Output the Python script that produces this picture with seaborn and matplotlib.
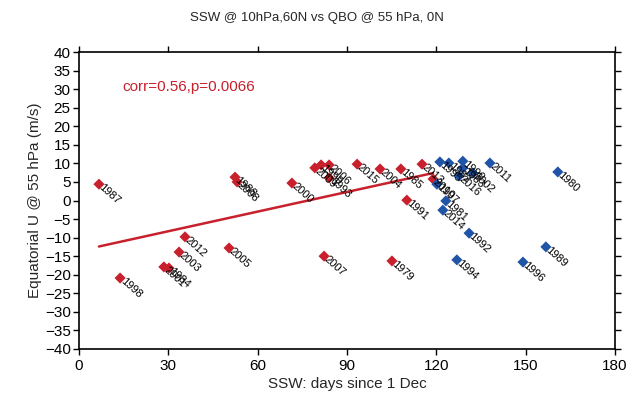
import matplotlib
matplotlib.use("Agg")
import matplotlib.pyplot as plt
import seaborn as sns
import pandas as pd
import numpy as np

# ---- data ----
red_years = ["1987", "1998", "2001", "1984", "2003", "2012", "2005", "1988", "2008",
             "2000", "2009", "1999", "2006", "1993", "2007", "2015", "2004", "1985",
             "1991", "1979", "2013", "2010"]
red_days = [6.7, 13.8, 28.5, 30.2, 33.6, 35.6, 50.4, 52.4, 53.1,
            71.5, 79.2, 81.3, 84.0, 84.0, 82.3, 93.4, 101.1, 108.1,
            110.1, 105.1, 115.2, 118.9]
red_u = [4.4, -20.9, -17.9, -18.2, -13.9, -9.8, -12.8, 6.3, 5.0,
         4.7, 8.8, 9.6, 9.6, 6.1, -15.0, 9.8, 8.5, 8.5,
         0.1, -16.3, 9.8, 5.8]

blue_years = ["1995", "1982", "1990", "1983", "2016", "2002", "1997", "1981", "2014",
              "1992", "1994", "2011", "1980", "1989", "1996"]
blue_days = [121.2, 124.2, 128.9, 128.9, 127.6, 132.3, 120.2, 123.2, 122.2,
             131.0, 126.9, 138.0, 160.8, 156.8, 149.1]
blue_u = [10.4, 10.1, 10.6, 8.75, 6.6, 7.4, 4.4, -0.1, -2.6,
          -8.8, -16.0, 10.1, 7.7, -12.5, -16.6]

fit_days = [6.7, 118.9]
fit_u = [-12.4, 7.4]

corr_text = "corr=0.56,p=0.0066"
title = "SSW @ 10hPa,60N vs QBO @ 55 hPa, 0N"
xlabel = "SSW: days since 1 Dec"
ylabel = "Equatorial U @ 55 hPa (m/s)"
xticks = list(range(0, 181, 30))
yticks = list(range(-40, 41, 5))

RED = "#c8202c"
BLUE = "#1f54a6"

df = pd.DataFrame({
    "day": red_days + blue_days,
    "u": red_u + blue_u,
    "year": red_years + blue_years,
    "grp": ["r"] * len(red_days) + ["b"] * len(blue_days),
})

sns.set_style("ticks")
plt.rcParams["font.family"] = ["Liberation Sans", "DejaVu Sans"]

fig = plt.figure(figsize=(6.34, 4.01), dpi=100)
ax = fig.add_axes([0.1246, 0.130, 0.8454, 0.740])

sns.lineplot(x=fit_days, y=fit_u, ax=ax, color=RED, lw=1.8, legend=False)
sns.scatterplot(data=df, x="day", y="u", hue="grp", palette={"r": RED, "b": BLUE},
                marker="D", s=32, edgecolor="none", legend=False, ax=ax, zorder=3)

for d, u, yr in zip(df["day"], df["u"], df["year"]):
    ax.annotate(yr, (d, u), xytext=(3.5, 1.5), textcoords="offset points",
                rotation=-42, rotation_mode="anchor", ha="left", va="top",
                fontsize=8, color="black", zorder=4)

ax.text(14.5, 30.5, corr_text, color=RED, fontsize=11, va="center")

ax.set_xlim(0, 180)
ax.set_ylim(-40, 40)
ax.set_xticks(xticks)
ax.set_yticks(yticks)
ax.tick_params(axis="both", which="both", direction="out", length=4, width=1,
               labelsize=11, colors="black", top=True, right=True, pad=2)
ax.tick_params(axis="x", pad=3)
for s in ax.spines.values():
    s.set_visible(True)
    s.set_color("black")
    s.set_linewidth(1.2)

ax.set_xlabel(xlabel, fontsize=11, labelpad=3)
ax.set_ylabel(ylabel, fontsize=11, labelpad=2)
fig.text(0.5, 0.955, title, ha="center", va="center", fontsize=9.5)

fig.savefig("out.png", dpi=100)
